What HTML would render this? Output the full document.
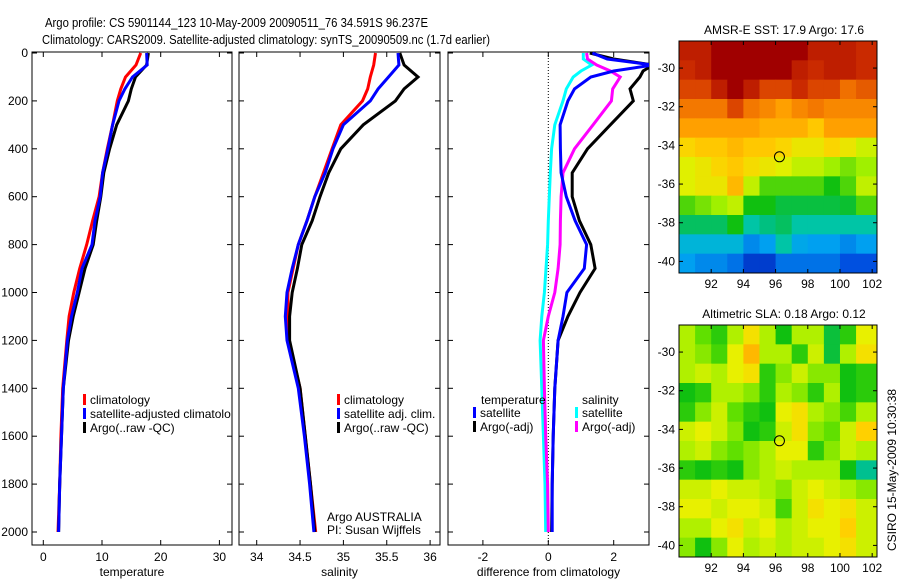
<!DOCTYPE html>
<html><head><meta charset="utf-8"><style>
html,body{margin:0;padding:0;background:#fff;width:900px;height:580px;overflow:hidden}
svg{display:block;font-family:"Liberation Sans",sans-serif}
</style></head><body>
<svg id="chart" width="900" height="580" viewBox="0 0 900 580" xmlns="http://www.w3.org/2000/svg">
<text x="45" y="27" font-size="13" textLength="383" lengthAdjust="spacingAndGlyphs">Argo profile: CS 5901144_123 10-May-2009 20090511_76 34.591S 96.237E</text>
<text x="42" y="44" font-size="13" textLength="448" lengthAdjust="spacingAndGlyphs">Climatology: CARS2009. Satellite-adjusted climatology: synTS_20090509.nc (1.7d earlier)</text>
<g id="layer"></g>
<text transform="translate(896,470) rotate(-90)" text-anchor="middle" font-size="12">CSIRO 15-May-2009 10:30:38</text>
</svg>
<script>
// ---- profile data ----
const depthTS = [0,50,100,150,200,300,400,500,600,700,800,900,1000,1100,1200,1400,1600,1800,2000];
const tempClim = [16.6,15.8,14.0,13.2,12.6,11.8,10.9,10.1,9.5,8.4,7.4,6.2,5.2,4.4,4.0,3.3,3.0,2.8,2.5];
const tempSat  = [17.6,17.7,15.2,13.9,12.9,11.8,11.0,10.1,9.7,8.8,8.3,6.6,5.8,4.8,4.1,3.4,3.1,2.8,2.6];
const tempArgo = [17.9,17.6,15.7,15.0,14.5,12.5,11.3,10.3,9.8,9.1,8.5,7.1,6.1,5.1,4.3,3.4,3.1,2.8,2.6];
const salClim = [35.37,35.35,35.31,35.28,35.22,34.97,34.87,34.77,34.67,34.58,34.48,34.42,34.36,34.36,34.37,34.5,34.56,34.62,34.68];
const salSat  = [35.63,35.64,35.52,35.40,35.31,35.00,34.88,34.79,34.67,34.58,34.48,34.41,34.35,34.33,34.35,34.48,34.55,34.61,34.66];
const salArgo = [35.65,35.70,35.86,35.70,35.60,35.23,34.97,34.83,34.73,34.64,34.52,34.47,34.41,34.38,34.38,34.5,34.56,34.62,34.67];
const depthDiff = [0,25,50,75,100,150,200,300,400,500,600,700,800,900,1000,1100,1200,1400,1600,1800,2000];
const diffTSat  = [1.35,1.8,3.2,2.0,1.3,0.8,0.6,0.36,0.37,0.39,0.55,0.82,1.17,1.1,0.57,0.45,0.3,0.2,0.15,0.12,0.12];
const diffTArgo = [1.27,2.0,3.2,2.9,2.8,2.5,2.6,1.9,1.2,0.73,0.73,0.95,1.3,1.43,0.97,0.6,0.3,0.2,0.15,0.12,0.1];
const diffSSat  = [1.07,1.07,1.33,1.0,0.76,0.55,0.45,0.2,0.1,0.06,0.03,0.0,-0.02,-0.07,-0.12,-0.2,-0.25,-0.2,-0.15,-0.1,-0.08];
const diffSArgo = [1.17,1.2,1.48,1.9,2.2,1.97,1.93,1.37,0.8,0.45,0.39,0.37,0.36,0.3,0.2,0.0,-0.15,-0.12,-0.08,-0.02,0];
const depthTicks = [0,200,400,600,800,1000,1200,1400,1600,1800,2000];
const tempTicks = [0,10,20,30];
const salTicks = [34,34.5,35,35.5,36];
const diffTicks = [-2,0,2];
// ---- map data (rows: lat -29..-40, cols: lon 90..101) ----
const mapLats = [-29,-30,-31,-32,-33,-34,-35,-36,-37,-38,-39,-40];
const mapLons = [90,91,92,93,94,95,96,97,98,99,100,101];
const sstGrid = [
[18.5,18.5,19,19,19,19,19,19,18.5,18.5,18.5,18.3],
[18.3,18.5,19,19,19,19,19,18.5,18.3,18.5,18.5,18.3],
[18,18,18.5,19,18.5,18,18,18.3,18,18,17.6,17.8],
[17.5,17.5,17.5,18,17.5,17.3,17,17.3,17.5,17.3,17.3,17.3],
[17,17,17,17,17,16.8,16.8,16.8,16.5,17,17,17],
[16.3,16.5,16.5,16.7,16.5,16.5,16.3,16,16,16.3,16,15.6],
[15.8,16,16.3,16.5,16.2,16,15.8,15.5,15.5,15.2,15,15.2],
[15.8,16,16,16.7,15.5,14.8,14.8,14.8,14.8,14.5,14.8,15.5],
[14.8,15,15.2,15.5,14.5,14.5,14.2,14.2,14.2,14.2,14.3,14.8],
[14,14,14,14.5,13.5,13.8,14,13.5,13.5,13.5,13.5,13.5],
[13,13,13,13,12.5,12.7,13.5,12.8,12.7,12.7,12.5,12.7],
[12.7,12.5,12.5,12.3,11.7,11.7,12.3,12.3,12.3,12.3,12,12]];
const slaGrid = [
[0.1,0,-0.1,0.1,0.25,0.1,-0.15,0.1,0.1,-0.2,-0.1,0.2],
[0.1,0.05,-0.05,0.2,0.35,0.1,0.1,-0.1,0.15,-0.2,0.1,0.25],
[0.1,0.15,0.1,0.2,0.25,-0.1,0.05,0.15,0.05,0.05,-0.15,-0.1],
[-0.15,-0.1,0.1,0.1,0.05,-0.1,0.1,0.05,-0.1,0.1,-0.15,-0.1],
[-0.1,0.05,0.15,0,-0.1,-0.15,0.2,0.25,0.1,0.05,-0.05,0.1],
[0.15,0.2,0.15,0.05,-0.15,-0.1,0.15,0.25,0.05,0,0.15,0.3],
[0.1,0.15,0.05,0,0.05,0.1,0.2,0.2,-0.1,0.05,0.15,0.1],
[-0.1,-0.15,-0.1,-0.15,0.05,0.1,0.15,0.1,0.1,0.1,-0.15,-0.3],
[0.15,0.15,0.2,0.15,0.15,0.1,0.05,0.15,0.2,0.15,0.1,0.05],
[0.2,0.2,0.15,0.2,0.2,0.15,-0.05,0.15,0.25,0.2,0.25,0.15],
[0.1,0.1,0.2,0.25,0.15,0.2,0.1,0.15,0.2,0.2,0.3,0.15],
[0.05,-0.15,0.05,0.2,0.1,0.15,0.1,0.15,0.15,0.2,0.25,0.15]];
const floatLon = 96.24, floatLat = -34.59;
const mapXTicks = [92,94,96,98,100,102];
const mapYTicks = [-30,-32,-34,-36,-38,-40];

const NS='http://www.w3.org/2000/svg';
const layer=document.getElementById('layer');
function el(tag,attrs,parent){const e=document.createElementNS(NS,tag);for(const k in attrs)e.setAttribute(k,attrs[k]);(parent||layer).appendChild(e);return e;}
const TOP=52,BOT=545;
function yD(d){return 53+d*0.2395;}
function lerp(a,b,t){return a+(b-a)*t;}

function panel(name,x0,x1,xs,ticks,tickFmt,label,leftLabels){
  const g=el('g',{});
  
  
  const r=el('rect',{x:x0,y:TOP,width:x1-x0,height:BOT-TOP,fill:'none',stroke:'#000','stroke-width':1},g);
  
  
  depthTicks.forEach(d=>{const y=yD(d);
    el('line',{x1:x0,x2:x0+5,y1:y,y2:y,stroke:'#000'},g);
    el('line',{x1:x1-5,x2:x1,y1:y,y2:y,stroke:'#000'},g);
    if(leftLabels){const t=el('text',{x:x0-4,y:y+4,'text-anchor':'end','font-size':12},g);t.textContent=d;
      
      }
  });
  ticks.forEach(v=>{const x=xs(v);
    el('line',{x1:x,x2:x,y1:TOP,y2:TOP+5,stroke:'#000'},g);
    el('line',{x1:x,x2:x,y1:BOT-5,y2:BOT,stroke:'#000'},g);
    const t=el('text',{x:x,y:561,'text-anchor':'middle','font-size':12},g);t.textContent=tickFmt(v);
    
    
  });
  const l=el('text',{x:(x0+x1)/2,y:576,'text-anchor':'middle','font-size':12},g);l.textContent=label;
  
  
  const cid='clip-'+name;
  const cp=el('clipPath',{id:cid},g);el('rect',{x:x0,y:TOP,width:x1-x0,height:BOT-TOP},cp);
  return {g,cid};
}
function series(p,name,xs,vals,depths,color){
  const pts=vals.map((v,i)=>xs(v).toFixed(1)+','+yD(depths[i]).toFixed(1)).join(' ');
  const pl=el('polyline',{points:pts,fill:'none',stroke:color,'stroke-width':3,'clip-path':'url(#'+p.cid+')'},p.g);
  
  
}
function legendItem(g,x,y,color,text,name){
  el('rect',{x:x,y:y-10,width:3,height:11,fill:color},g);
  const t=el('text',{x:x+7,y:y,'font-size':12},g);t.textContent=text;
  
  
}
// temperature
const xT=v=>43.3+v*5.87;
const p1=panel('temperature-panel',32,232,xT,tempTicks,v=>v,'temperature',true);
series(p1,'temp-climatology-line',xT,tempClim,depthTS,'#ff0000');
series(p1,'temp-argo-line',xT,tempArgo,depthTS,'#000000');
series(p1,'temp-satellite-line',xT,tempSat,depthTS,'#0000ff');
const lg1=el('g',{});


legendItem(lg1,83,404,'#ff0000','climatology','legend-entry-climatology');
legendItem(lg1,83,418,'#0000ff','satellite-adjusted climatolo','legend-entry-satellite');
legendItem(lg1,83,432,'#000000','Argo(..raw -QC)','legend-entry-argo');
// salinity
const xS=v=>256.7+(v-34)*86.7;
const p2=panel('salinity-panel',239,440,xS,salTicks,v=>v,'salinity',false);
series(p2,'sal-climatology-line',xS,salClim,depthTS,'#ff0000');
series(p2,'sal-argo-line',xS,salArgo,depthTS,'#000000');
series(p2,'sal-satellite-line',xS,salSat,depthTS,'#0000ff');
const lg2=el('g',{});


legendItem(lg2,337,404,'#ff0000','climatology','legend-entry-climatology');
legendItem(lg2,337,418,'#0000ff','satellite adj. clim.','legend-entry-satellite');
legendItem(lg2,337,432,'#000000','Argo(..raw -QC)','legend-entry-argo');
const c1=el('text',{x:327,y:521,'font-size':12});c1.textContent='Argo AUSTRALIA';


const c2=el('text',{x:327,y:534,'font-size':12});c2.textContent='PI: Susan Wijffels';


// difference
const xDf=v=>548.3+v*32.7;
const p3=panel('difference-panel',448,649,xDf,diffTicks,v=>v,'difference from climatology',false);
el('line',{x1:xDf(0),x2:xDf(0),y1:TOP,y2:BOT,stroke:'#000','stroke-dasharray':'1,2'},p3.g);
series(p3,'diff-salinity-satellite-line',xDf,diffSSat,depthDiff,'#00ffff');
series(p3,'diff-salinity-argo-line',xDf,diffSArgo,depthDiff,'#ff00ff');
series(p3,'diff-temp-argo-line',xDf,diffTArgo,depthDiff,'#000000');
series(p3,'diff-temp-satellite-line',xDf,diffTSat,depthDiff,'#0000ff');
const lg3=el('g',{});


const h1=el('text',{x:481,y:404,'font-size':12},lg3);h1.textContent='temperature';
const h2=el('text',{x:582,y:404,'font-size':12},lg3);h2.textContent='salinity';
legendItem(lg3,473,417,'#0000ff','satellite','legend-entry-temp-satellite');
legendItem(lg3,473,431,'#000000','Argo(-adj)','legend-entry-temp-argo');
legendItem(lg3,575,417,'#00ffff','satellite','legend-entry-sal-satellite');
legendItem(lg3,575,431,'#ff00ff','Argo(-adj)','legend-entry-sal-argo');

// ---- maps ----
function cmap(stops,v){
  if(v<=stops[0][0])return 'rgb('+stops[0][1].join(',')+')';
  for(let i=1;i<stops.length;i++){if(v<=stops[i][0]){const t=(v-stops[i-1][0])/(stops[i][0]-stops[i-1][0]);
    const a=stops[i-1][1],b=stops[i][1];return 'rgb('+a.map((c,k)=>Math.round(lerp(c,b[k],t))).join(',')+')';}}
  const l=stops[stops.length-1][1];return 'rgb('+l.join(',')+')';
}
const sstStops=[[11,[0,16,160]],[12,[0,80,224]],[12.7,[0,160,240]],[13.3,[0,200,192]],[13.8,[0,192,128]],[14.5,[16,192,16]],[15.2,[160,240,0]],[15.8,[224,240,0]],[16.4,[255,208,0]],[17,[255,160,0]],[17.6,[240,112,0]],[18.2,[208,48,0]],[19,[160,0,0]]];
const slaStops=[[-0.3,[0,192,144]],[-0.15,[16,192,16]],[0,[96,224,0]],[0.1,[176,240,0]],[0.2,[232,240,0]],[0.3,[255,208,0]],[0.4,[255,160,0]]];
function drawMap(name,title,grid,stops,y0,y1,latT,latB){
  const X0=679,X1=877,lonL=90,lonR=102.3;
  const xs=lon=>X0+(lon-lonL)/(lonR-lonL)*(X1-X0);
  const ys=lat=>y0+(latT-lat)/(latT-latB)*(y1-y0);
  const g=el('g',{});
  
  
  grid.forEach((row,i)=>row.forEach((v,j)=>{
    const lon=mapLons[j],lat=mapLats[i];
    const xa=xs(lon),xb=j==row.length-1?X1:xs(lon+1);
    const ya=i==0?y0:ys(lat+0.4),yb=i==grid.length-1?y1:ys(lat-0.6);
    const r=el('rect',{x:xa,y:ya,width:xb-xa+0.5,height:yb-ya+0.5,fill:cmap(stops,v)},g);
    
    
  }));
  el('rect',{x:X0,y:y0,width:X1-X0,height:y1-y0,fill:'none',stroke:'#000'},g);
  mapXTicks.forEach(v=>{const x=xs(v);el('line',{x1:x,x2:x,y1:y1,y2:y1-4,stroke:'#000'},g);el('line',{x1:x,x2:x,y1:y0,y2:y0+4,stroke:'#000'},g);
    const t=el('text',{x:x,y:y1+15,'text-anchor':'middle','font-size':12},g);t.textContent=v;
    
    });
  mapYTicks.forEach(v=>{const y=ys(v);el('line',{x1:X0,x2:X0+4,y1:y,y2:y,stroke:'#000'},g);el('line',{x1:X1-4,x2:X1,y1:y,y2:y,stroke:'#000'},g);
    const t=el('text',{x:X0-4,y:y+4,'text-anchor':'end','font-size':12},g);t.textContent=v;
    
    });
  const c=el('circle',{cx:xs(floatLon),cy:ys(floatLat),r:5,fill:'none',stroke:'#000','stroke-width':1},g);
  
  
  const t=el('text',{x:(X0+X1)/2+6,y:y0-7,'text-anchor':'middle','font-size':12},g);t.textContent=title;
  
  
}
drawMap('sst-map','AMSR-E SST: 17.9 Argo: 17.6',sstGrid,sstStops,41,273,-28.6,-40.6);
drawMap('sla-map','Altimetric SLA: 0.18 Argo: 0.12',slaGrid,slaStops,325,557,-28.6,-40.6);
</script>
</body></html>
